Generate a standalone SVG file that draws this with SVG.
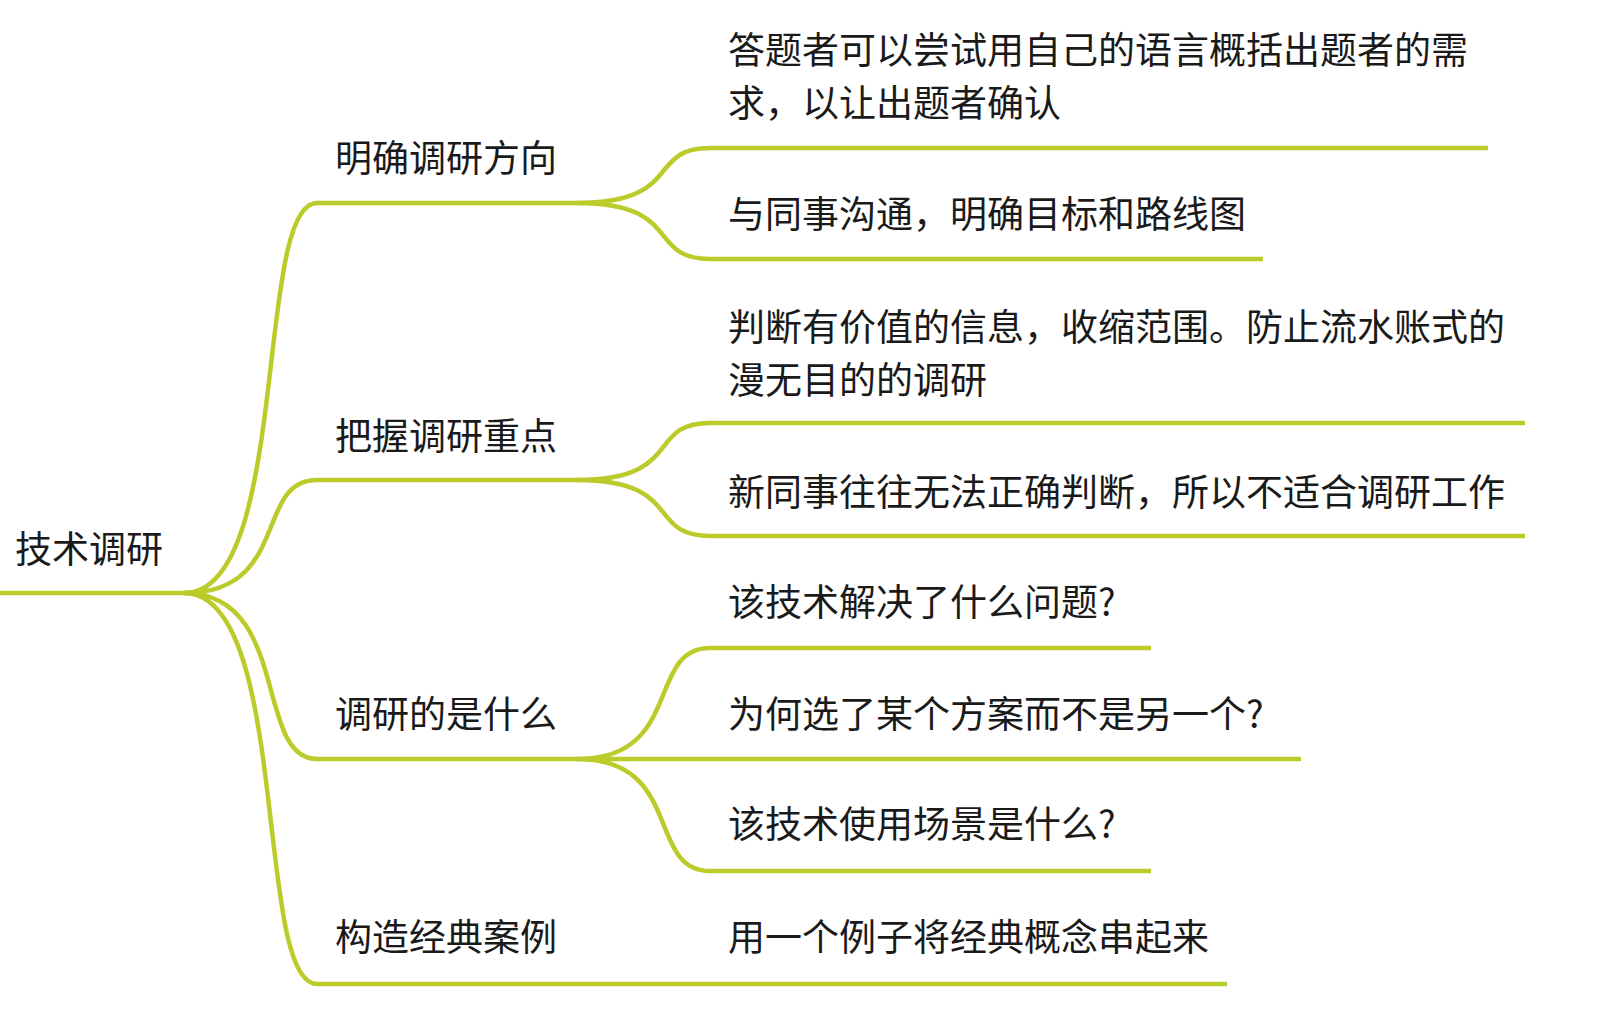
<svg xmlns="http://www.w3.org/2000/svg" width="1600" height="1012" viewBox="0 0 1600 1012">
<style>
text{font-family:"Noto Sans CJK SC","Noto Sans",sans-serif;font-size:37px;fill:#1a1a1a}
.c{fill:none;stroke:#bacb2a;stroke-width:4.5;stroke-linecap:butt}
</style>
<rect width="1600" height="1012" fill="#ffffff"/>
<g id="connectors">
<path class="c" d="M0,593 H184"/>
<path class="c" d="M184,593 C291,593 254,203 317,203 H577"/>
<path class="c" d="M184,593 C291,593 254,480 317,480 H577"/>
<path class="c" d="M184,593 C291,593 254,759 317,759 H577"/>
<path class="c" d="M184,593 C291,593 254,984 317,984 H577"/>
<path class="c" d="M577,203 C684,203 646,148 710,148 H1488"/>
<path class="c" d="M577,203 C684,203 646,259 710,259 H1263"/>
<path class="c" d="M577,480 C684,480 646,423 710,423 H1525"/>
<path class="c" d="M577,480 C684,480 646,536 710,536 H1525"/>
<path class="c" d="M577,759 C684,759 646,648 710,648 H1151"/>
<path class="c" d="M577,759 H1301"/>
<path class="c" d="M577,759 C684,759 646,871 710,871 H1151"/>
<path class="c" d="M577,984 H1227"/>
</g>
<g id="root"><text x="15" y="563">技术调研</text></g>
<g id="n1"><text x="335" y="172">明确调研方向</text></g>
<g id="n2"><text x="335" y="450">把握调研重点</text></g>
<g id="n3"><text x="335" y="728">调研的是什么</text></g>
<g id="n4"><text x="335" y="951">构造经典案例</text></g>
<g id="n1a"><text x="728" y="64">答题者可以尝试用自己的语言概括出题者的需</text><text x="728" y="117">求，以让出题者确认</text></g>
<g id="n1b"><text x="728" y="228">与同事沟通，明确目标和路线图</text></g>
<g id="n2a"><text x="728" y="341">判断有价值的信息，收缩范围。防止流水账式的</text><text x="728" y="394">漫无目的的调研</text></g>
<g id="n2b"><text x="728" y="506">新同事往往无法正确判断，所以不适合调研工作</text></g>
<g id="n3a"><text x="728" y="616">该技术解决了什么问题?</text></g>
<g id="n3b"><text x="728" y="728">为何选了某个方案而不是另一个?</text></g>
<g id="n3c"><text x="728" y="838">该技术使用场景是什么?</text></g>
<g id="n4a"><text x="728" y="951">用一个例子将经典概念串起来</text></g>
</svg>
